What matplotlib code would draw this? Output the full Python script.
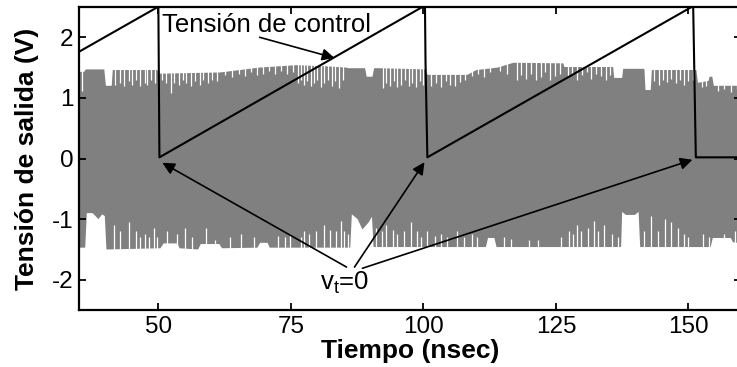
import numpy as np
import matplotlib
matplotlib.use('Agg')
import matplotlib.pyplot as plt

plt.rcParams['font.family'] = ['Liberation Sans', 'DejaVu Sans']
plt.rcParams['axes.unicode_minus'] = False

# control voltage (sawtooth)
ctrl_t = [35.0, 49.9, 50.0, 50.2, 99.8, 100.3, 100.4, 100.75, 150.6, 150.9, 151.4, 160.0]
ctrl_v = [1.76, 2.5, 2.5, 0.02, 2.5, 2.5, 1.6, 0.02, 2.5, 2.5, 0.02, 0.02]

# output signal envelope, upper edge
hi_t = [35.0, 36.0, 36.3, 39.8, 40.1, 41.2, 41.4, 49.8, 50.2, 61.7, 69.0, 76.0, 82.0,
        85.5, 85.8, 89.0, 89.3, 90.4, 90.7, 91.9, 100.4, 100.8, 108.3, 110.0, 114.0,
        117.0, 126.4, 126.6, 135.8, 136.0, 137.5, 137.7, 141.7, 141.9, 142.9, 143.1,
        151.5, 151.8, 153.8, 154.0, 154.5, 154.8, 160.0]
hi_v = [1.43, 1.43, 1.47, 1.47, 1.20, 1.20, 1.46, 1.46, 1.40, 1.42, 1.50, 1.54, 1.52,
        1.50, 1.49, 1.49, 1.35, 1.35, 1.49, 1.49, 1.47, 1.38, 1.38, 1.46, 1.50,
        1.58, 1.57, 1.51, 1.51, 1.33, 1.33, 1.48, 1.48, 1.13, 1.13, 1.46,
        1.46, 1.25, 1.28, 1.35, 1.35, 1.20, 1.20]

# output signal envelope, lower edge
lo_t = [35.0, 36.2, 36.5, 37.6, 38.7, 39.4, 39.9, 40.2, 50.4, 51.0, 53.6, 54.0, 57.5,
        58.0, 61.5, 62.0, 68.7, 69.2, 70.6, 71.0, 86.2, 86.5, 87.6, 88.5, 89.7, 90.3,
        90.6, 111.8, 112.2, 113.4, 113.8, 137.3, 137.5, 138.2, 139.9, 140.6, 140.9,
        154.2, 154.6, 158.0, 158.4, 160.0]
lo_v = [-1.47, -1.47, -0.90, -0.90, -1.00, -0.92, -0.95, -1.50, -1.48, -1.40, -1.40, -1.48, -1.50,
        -1.41, -1.41, -1.48, -1.47, -1.39, -1.39, -1.47, -1.47, -0.92, -1.00, -1.17, -1.05, -0.96,
        -1.46, -1.46, -1.31, -1.31, -1.46, -1.46, -0.88, -0.93, -0.93, -0.88, -1.46,
        -1.46, -1.31, -1.31, -1.38, -1.40]

# short drops of the upper edge
top_dip_t = [35.5,
             41.9, 42.8, 43.6, 44.5, 45.1, 45.8, 46.6, 47.4, 47.9, 48.7, 49.3,
             50.6, 51.4, 52.3, 53.0, 53.8, 54.6, 55.3, 56.1, 57.0, 57.8, 58.5, 59.4, 60.2, 61.0,
             62.5, 63.8, 65.2, 66.4, 67.5, 68.6, 69.8, 70.9, 72.0, 73.1, 74.3, 75.4,
             76.3, 76.9, 77.5, 78.1, 78.8, 79.4, 80.0, 80.7, 81.3, 82.0, 82.7, 83.4, 84.1, 84.8,
             92.3, 93.0, 93.7, 94.4, 95.1, 95.8, 96.5, 97.2, 97.9, 98.6, 99.3, 99.9,
             101.5, 102.4, 103.3, 104.2, 105.1, 106.0, 106.9, 107.8,
             109.2, 110.3, 111.4, 112.5, 114.5, 115.8,
             117.6, 118.5, 119.4, 120.3, 121.2, 122.1, 123.0, 123.9, 124.8, 125.7,
             127.2, 128.1, 129.0, 129.9, 130.8, 131.7, 132.6, 133.5, 134.4, 135.3,
             143.6, 144.4, 145.2, 146.0, 146.8, 147.6, 148.4, 149.2, 150.0, 150.8,
             152.5, 153.3, 155.6, 156.8, 158.0, 159.2]
top_dip_v = [1.12,
             1.22, 1.25, 1.20, 1.28, 1.22, 1.30, 1.20, 1.25, 1.22, 1.30, 1.24,
             1.30, 1.25, 1.08, 1.25, 1.22, 1.30, 1.24, 1.20, 1.28, 1.22, 1.30, 1.25, 1.30, 1.28,
             1.38, 1.35, 1.40, 1.36, 1.42, 1.38, 1.40, 1.44, 1.40, 1.45, 1.40, 1.42,
             1.25, 1.30, 1.22, 1.28, 1.20, 1.25, 1.30, 1.18, 1.25, 1.30, 1.20, 1.28, 1.16, 1.30,
             1.16, 1.25, 1.20, 1.28, 1.18, 1.22, 1.30, 1.20, 1.25, 1.18, 1.28, 1.22,
             1.20, 1.25, 1.18, 1.28, 1.22, 1.20, 1.26, 1.30,
             1.36, 1.40, 1.35, 1.42, 1.45, 1.40,
             1.30, 1.38, 1.32, 1.40, 1.30, 1.35, 1.42, 1.30, 1.36, 1.40,
             1.35, 1.40, 1.30, 1.38, 1.42, 1.32, 1.40, 1.36, 1.30, 1.38,
             1.28, 1.22, 1.30, 1.26, 1.32, 1.24, 1.30, 1.22, 1.28, 1.30,
             1.18, 1.20, 1.12, 1.15, 1.10, 1.15]

# short rises of the lower edge
bot_dip_t = [41.7, 42.8, 44.5, 45.7, 46.6, 47.5, 48.3, 49.2, 49.8, 51.7, 53.6, 55.1, 56.4,
             58.9, 60.6, 63.6, 65.5, 68.1, 72.5, 73.8, 74.9,
             77.0, 77.5, 78.5, 79.8, 81.3, 82.3, 83.6, 84.5, 85.1, 85.7, 91.1, 92.1, 93.0,
             94.2, 95.1, 96.4, 97.7, 98.7, 99.6, 100.6, 102.1, 103.4, 104.5, 106.4, 107.7,
             109.1, 110.2, 115.3, 116.6,
             120.0, 121.7, 126.0, 127.4, 128.3, 128.9, 129.8, 131.1, 132.1, 133.0, 134.0,
             135.5, 136.8, 141.7, 143.0, 144.3, 145.5, 146.8, 148.1, 149.1, 150.0, 152.8,
             153.8, 156.8, 158.7]
bot_dip_v = [-1.10, -1.20, -1.05, -1.20, -1.30, -1.25, -1.30, -1.15, -1.30, -1.20, -1.25, -1.15, -1.30,
             -1.15, -1.35, -1.30, -1.25, -1.30, -1.28, -1.30, -1.25,
             -1.30, -1.20, -1.25, -1.20, -1.10, -1.18, -1.20, -1.03, -1.20, -1.25, -1.15, -1.20, -1.10,
             -1.18, -1.25, -1.20, -1.05, -1.20, -1.30, -1.20, -1.28, -1.25, -1.30, -1.20, -1.30,
             -1.25, -1.30, -1.30, -1.32,
             -1.35, -1.35, -1.30, -1.20, -1.25, -1.10, -1.20, -1.15, -1.03, -1.20, -1.10,
             -1.25, -1.30, -1.20, -0.95, -1.20, -1.00, -1.05, -1.15, -1.25, -1.30, -1.25,
             -1.30, -1.25, -1.20]

xticks = [50, 75, 100, 125, 150]
yticks = [-2, -1, 0, 1, 2]

fig = plt.figure(figsize=(7.37, 3.67), dpi=100)
ax = fig.add_axes([0.107, 0.155, 0.899, 0.826])

gray = '#808080'
poly_t = np.concatenate([hi_t, lo_t[::-1]])
poly_v = np.concatenate([hi_v, lo_v[::-1]])
ax.fill(poly_t, poly_v, color=gray, lw=0, zorder=1)
ax.vlines(top_dip_t, top_dip_v, 1.7, color='white', lw=0.9, zorder=1.5)
ax.vlines(bot_dip_t, -1.7, bot_dip_v, color='white', lw=0.9, zorder=1.5)

ax.plot(ctrl_t, ctrl_v, color='black', lw=1.5, zorder=3)

arrow = dict(arrowstyle='-|>', color='black', lw=1.2, mutation_scale=18,
             shrinkA=0, shrinkB=0)
ax.text(50.75, 2.09, 'Tensión de control', fontsize=18.5, ha='left', va='baseline', zorder=5)
ax.annotate('', xy=(83.2, 1.66), xytext=(69.1, 2.0), arrowprops=arrow, zorder=4)

ax.text(85.1, -2.05, r'v$_\mathregular{t}$=0', fontsize=18.5, ha='center', va='center', zorder=5)
ax.annotate('', xy=(50.75, -0.07), xytext=(85.5, -1.79), arrowprops=arrow, zorder=4)
ax.annotate('', xy=(100.2, -0.06), xytext=(87.0, -1.79), arrowprops=arrow, zorder=4)
ax.annotate('', xy=(150.75, -0.02), xytext=(88.5, -1.81), arrowprops=arrow, zorder=4)

ax.set_xlim(35, 160)
ax.set_ylim(-2.5, 2.5)
ax.set_xticks(xticks)
ax.set_yticks(yticks)
ax.tick_params(direction='in', length=5, width=1.3, labelsize=17.5, pad=4,
               top=True, right=True)
for s in ax.spines.values():
    s.set_linewidth(1.6)

ax.set_xlabel('Tiempo (nsec)', fontsize=19, fontweight='bold', labelpad=1)
ax.set_ylabel('Tensión de salida (V)', fontsize=19, fontweight='bold', labelpad=9)

fig.savefig('out.png', dpi=100)
